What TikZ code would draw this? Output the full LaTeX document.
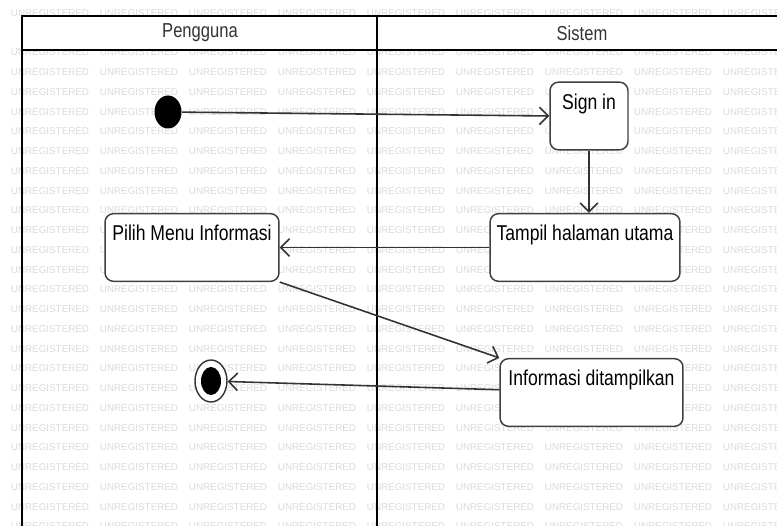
\documentclass[tikz,border=0pt]{standalone}
\usepackage{fontspec}
\setmainfont[FakeStretch=0.82]{Liberation Sans}
\newfontfamily\wmfont{Liberation Sans}
\usetikzlibrary{arrows.meta,shapes.geometric}

\begin{document}
\begin{tikzpicture}[x=0.02cm, y=-0.02cm,
    activity/.style={draw=black!75, line width=0.85pt, fill=white, rounded corners=0.17cm,
        inner xsep=0pt, inner ysep=0pt, text height=15.3pt, text depth=23.2pt,
        font=\fontsize{12.2}{14}\selectfont},
    header/.style={text=black!80, font=\fontsize{11.5}{13}\selectfont},
    flow/.style={draw=black!80, line width=0.9pt, -{Straight Barb[length=5pt, width=10pt]}},
    lane/.style={line width=1.4pt},
    watermark/.style={text=black!14, font=\wmfont\fontsize{5.6}{6}\selectfont, inner sep=0pt}]
    \useasboundingbox (0,0) rectangle (777,526);
    \fill[white] (0,0) rectangle (777,526);

    % Watermark (row 1 sits under the header, words fully under a box are left out)
    \foreach \j in {0,2,3,...,26} {
        \foreach \i in {0,...,8} {
            \pgfmathsetmacro\wx{50+89*\i}
            \pgfmathsetmacro\wy{13+19.75*\j}
            \pgfmathtruncatemacro\hid{and(abs(\wx-585)<=55, abs(\wy-247.5)<=30)
                + and(abs(\wx-192)<=47, abs(\wy-247.5)<=30)
                + and(abs(\wx-591.5)<=51.5, abs(\wy-392.5)<=30)}
            \ifnum\hid=0
                \node[watermark] (wm-\i-\j) at (\wx,\wy) {UNREGISTERED};
            \fi
        }
    }

    % Swimlanes
    \fill[white] (22,16) rectangle (777,50);
    \draw[lane] (777,16) -- (22,16) -- (22,526);
    \draw[lane] (22,50) -- (777,50);
    \draw[lane] (377,16) -- (377,526);
    \node[header] (pengguna) at (200,33) {Pengguna};
    \node[header] (sistem) at (582,33) {Sistem};

    % Start and end
    \node[ellipse, fill=black, inner sep=0pt, minimum width=0.54cm, minimum height=0.66cm] (start) at (168,112) {};
    \node[ellipse, draw=black!80, line width=0.8pt, fill=white, inner sep=0pt, minimum width=0.64cm, minimum height=0.84cm] (end) at (211,381) {};
    \node[ellipse, fill=black, inner sep=0pt, minimum width=0.4cm, minimum height=0.56cm] (endDot) at (end) {};

    % Activities
    \node[activity, minimum width=1.56cm] (signin) at (589,116) {Sign in};
    \node[activity, minimum width=3.8cm] (tampil) at (585,247.5) {Tampil halaman utama};
    \node[activity, minimum width=3.48cm] (pilih) at (192,247.5) {Pilih Menu Informasi};
    \node[activity, minimum width=3.66cm] (info) at (591.5,392.5) {Informasi ditampilkan};

    % Flows
    \draw[flow] (start) -- (signin.west);
    \draw[flow] (signin) -- (signin |- tampil.north);
    \draw[flow] (tampil) -- (pilih);
    \draw[flow] (pilih.south east) -- (info.north west);
    \draw[flow] (info) -- (end);
\end{tikzpicture}
\end{document}
